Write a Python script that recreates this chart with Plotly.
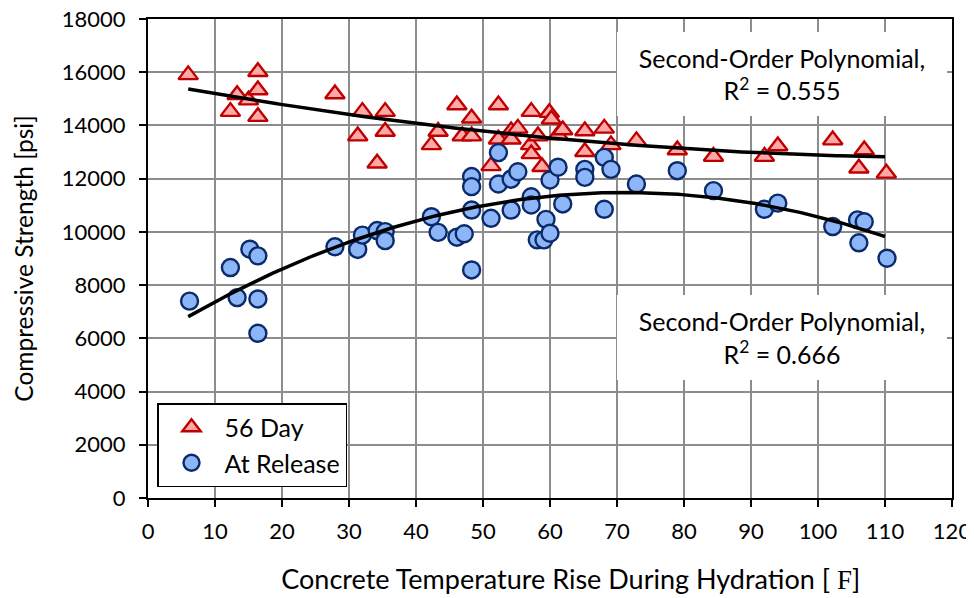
import numpy as np
import plotly.graph_objects as go

# ---- data ----
x_56day = [6, 12.3, 13.3, 15, 16.4, 16.4, 16.4, 27.9, 31.3, 32, 34.2, 35.4, 35.4,
           42.3, 43.3, 46.1, 46.9, 48.3, 48.3, 51.2, 52.3, 52.3, 54.2, 54.2, 55.2,
           57.1, 57.2, 57.2, 58.2, 58.8, 59.9, 60.2, 61.2, 61.9, 65.2, 65.2, 68.1,
           69.1, 72.9, 79, 84.4, 92, 94, 102.2, 106.1, 106.9, 110.2]
y_56day = [15900, 14520, 15150, 14950, 16020, 15330, 14330, 15180, 13600, 14520, 12580, 14520, 13770,
           13270, 13770, 14770, 13600, 13600, 14270, 12480, 14770, 13480, 13790, 13480, 13890,
           13270, 14520, 12930, 13600, 12450, 14480, 14230, 13640, 13830, 13790, 13010, 13890,
           13270, 13420, 13080, 12830, 12830, 13230, 13450, 12390, 13080, 12200]

x_release = [6.2, 12.3, 13.3, 15.2, 16.4, 16.4, 16.4, 27.9, 31.3, 32, 34.2, 35.4, 35.4,
             42.3, 43.3, 46.1, 47.2, 48.3, 48.3, 48.3, 48.3, 51.2, 52.3, 52.3, 54.2, 54.2,
             55.2, 57.2, 57.2, 58.1, 59.1, 59.4, 60.0, 60.0, 61.2, 61.9, 65.2, 65.2, 68.1,
             68.1, 69.1, 72.9, 79, 84.4, 92, 94, 102.2, 105.9, 106.9, 106.1, 110.3]
y_release = [7400, 8660, 7530, 9350, 9100, 7480, 6190, 9440, 9340, 9880, 10050, 10010, 9670,
             10570, 9980, 9800, 9930, 12080, 11700, 10820, 8570, 10510, 12980, 11800, 11980, 10820,
             12260, 11320, 11010, 9700, 9700, 10470, 9950, 11950, 12430, 11050, 12350, 12050, 12800,
             10850, 12350, 11800, 12300, 11550, 10850, 11080, 10200, 10450, 10380, 9590, 9010]

x_ticks = list(range(0, 121, 10))
y_ticks = list(range(0, 18001, 2000))
fit_range = [6, 110]

label_56 = "56 Day"
label_rel = "At Release"
ann_top = "Second-Order Polynomial,<br>R<sup>2</sup> = 0.555"
ann_bot = "Second-Order Polynomial,<br>R<sup>2</sup> = 0.666"
x_title = ('&nbsp;&nbsp;&nbsp;&nbsp;&nbsp;&nbsp;Concrete Temperature Rise During Hydration '
           '[ <span style="font-family:Liberation Serif">F</span>]')
y_title = "Compressive Strength [psi]"

FONT = "Lato"

# second-order polynomial trendlines fitted to the data
xf = np.linspace(fit_range[0], fit_range[1], 200)
c56 = np.polyfit(x_56day, y_56day, 2)
crel = np.polyfit(x_release, y_release, 2)

fig = go.Figure()
fig.add_trace(go.Scatter(
    x=x_56day, y=y_56day, mode="markers", name=label_56,
    marker=dict(symbol="triangle-up", size=17, color="#FFA8A8",
                line=dict(color="#C00000", width=2.4))))
fig.add_trace(go.Scatter(
    x=x_release, y=y_release, mode="markers", name=label_rel,
    marker=dict(symbol="circle", size=17, color="#8DB6F9",
                line=dict(color="#0A2A6A", width=2.4))))
fig.add_trace(go.Scatter(x=xf, y=np.polyval(c56, xf), mode="lines",
                         line=dict(color="black", width=3.5), showlegend=False,
                         hoverinfo="skip"))
fig.add_trace(go.Scatter(x=xf, y=np.polyval(crel, xf), mode="lines",
                         line=dict(color="black", width=3.5), showlegend=False,
                         hoverinfo="skip"))

# plot area in target pixels: x 148..952, y 19..498 (page has an 8px body offset)
PX0, PX1, PY0, PY1 = 148, 952, 19, 498
PW, PH = PX1 - PX0, PY1 - PY0
OFF = 8

# equation labels in white boxes (cover the gridlines)
fig.add_annotation(text=ann_top, xref="paper", yref="paper",
                   x=(782 - PX0) / PW, y=(PY1 - 74) / PH, xanchor="center", yanchor="middle",
                   showarrow=False, width=330, height=84, bgcolor="white",
                   borderwidth=0, borderpad=0,
                   font=dict(family=FONT, size=25, color="black"), align="center", valign="middle")
fig.add_annotation(text=ann_bot, xref="paper", yref="paper",
                   x=(782 - PX0) / PW, y=(PY1 - 337.5) / PH, xanchor="center", yanchor="middle",
                   showarrow=False, width=330, height=85, bgcolor="white",
                   borderwidth=0, borderpad=0,
                   font=dict(family=FONT, size=25, color="black"), align="center", valign="middle")

axis_common = dict(showline=True, linecolor="black", linewidth=2, mirror=True,
                   ticks="outside", ticklen=7, tickwidth=2, tickcolor="black",
                   showgrid=True, gridcolor="#8C8C8C", gridwidth=1.5, zeroline=False,
                   automargin=False, ticklabeloverflow="allow",
                   tickfont=dict(family=FONT, size=22, color="black"))

fig.update_xaxes(range=[0, 120], tickvals=x_ticks, tickformat="d", ticklabelstandoff=6,
                 title=dict(text=x_title, font=dict(family=FONT, size=27, color="black"),
                            standoff=27),
                 **axis_common)
fig.update_yaxes(range=[0, 18000], tickvals=y_ticks, tickformat="d", ticklabelstandoff=9,
                 title=dict(text=y_title, font=dict(family=FONT, size=24.5, color="black"),
                            standoff=21),
                 **axis_common)

W, H = 974, 598
fig.update_layout(
    width=W, height=H,
    margin=dict(l=PX0 - OFF, r=W + OFF - PX1, t=PY0 - OFF, b=H + OFF - PY1),
    paper_bgcolor="white", plot_bgcolor="white",
    legend=dict(x=(157 - PX0) / PW, y=(PY1 - 487) / PH, xanchor="left", yanchor="bottom",
                bordercolor="black", borderwidth=1.5, bgcolor="white", itemwidth=56,
                entrywidth=185, entrywidthmode="pixels",
                font=dict(family=FONT, size=25, color="black")),
)

fig.write_html("out.html")
